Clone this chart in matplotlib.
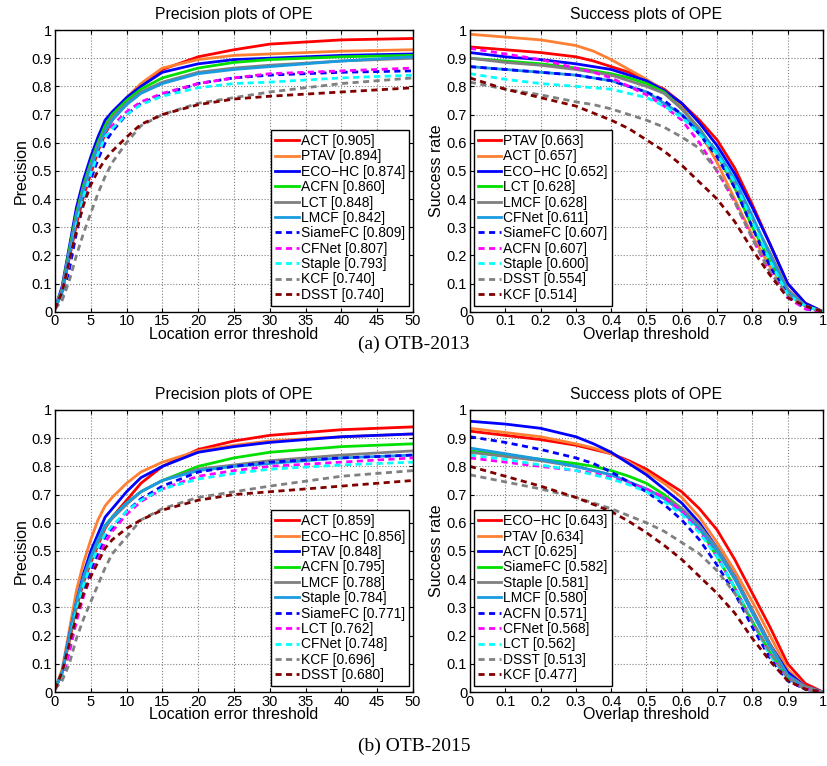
import matplotlib.pyplot as plt

plt.switch_backend("Agg")
plt.rcParams["font.family"] = ["Liberation Sans", "DejaVu Sans"]

# ---- data ----
prec_x = [0, 1, 2, 3, 4, 5, 6, 7, 8, 10, 12, 15, 20, 25, 30, 40, 50]
succ_x = [0, 0.1, 0.2, 0.3, 0.35, 0.4, 0.45, 0.5, 0.55, 0.6, 0.65, 0.7, 0.75, 0.8, 0.85, 0.9, 0.95, 1.0]

# OTB-2013 precision
p13_labels = ["ACT [0.905]", "PTAV [0.894]", "ECO\u2212HC [0.874]", "ACFN [0.860]", "LCT [0.848]",
              "LMCF [0.842]", "SiameFC [0.809]", "CFNet [0.807]", "Staple [0.793]",
              "KCF [0.740]", "DSST [0.740]"]
p13_act = [0.01, 0.07, 0.19, 0.31, 0.41, 0.49, 0.57, 0.63, 0.68, 0.75, 0.80, 0.86, 0.905, 0.93, 0.95, 0.965, 0.97]
p13_ptav = [0.01, 0.08, 0.22, 0.35, 0.45, 0.53, 0.60, 0.66, 0.70, 0.76, 0.81, 0.865, 0.895, 0.91, 0.915, 0.925, 0.93]
p13_eco = [0.01, 0.09, 0.23, 0.37, 0.47, 0.55, 0.62, 0.68, 0.71, 0.76, 0.80, 0.85, 0.88, 0.895, 0.90, 0.91, 0.915]
p13_acfn = [0.01, 0.08, 0.22, 0.35, 0.45, 0.53, 0.60, 0.66, 0.70, 0.75, 0.79, 0.83, 0.865, 0.885, 0.895, 0.905, 0.91]
p13_lct = [0.01, 0.08, 0.21, 0.34, 0.44, 0.52, 0.59, 0.645, 0.69, 0.74, 0.78, 0.815, 0.85, 0.865, 0.875, 0.89, 0.90]
p13_lmcf = [0.01, 0.07, 0.20, 0.33, 0.43, 0.51, 0.58, 0.64, 0.68, 0.735, 0.775, 0.81, 0.845, 0.86, 0.87, 0.89, 0.905]
p13_siam = [0.01, 0.05, 0.15, 0.28, 0.39, 0.47, 0.54, 0.60, 0.64, 0.70, 0.74, 0.77, 0.81, 0.83, 0.84, 0.85, 0.855]
p13_cfnet = [0.01, 0.06, 0.18, 0.31, 0.41, 0.49, 0.56, 0.62, 0.66, 0.71, 0.745, 0.775, 0.81, 0.83, 0.845, 0.855, 0.865]
p13_staple = [0.01, 0.06, 0.18, 0.31, 0.41, 0.49, 0.56, 0.62, 0.65, 0.70, 0.735, 0.765, 0.795, 0.81, 0.815, 0.83, 0.84]
p13_kcf = [0.01, 0.04, 0.11, 0.20, 0.28, 0.35, 0.42, 0.48, 0.53, 0.60, 0.66, 0.70, 0.74, 0.76, 0.78, 0.81, 0.83]
p13_dsst = [0.01, 0.07, 0.18, 0.29, 0.38, 0.45, 0.50, 0.54, 0.57, 0.62, 0.665, 0.70, 0.735, 0.755, 0.765, 0.78, 0.795]

# OTB-2013 success
s13_labels = ["PTAV [0.663]", "ACT [0.657]", "ECO\u2212HC [0.652]", "LCT [0.628]", "LMCF [0.628]",
              "CFNet [0.611]", "SiameFC [0.607]", "ACFN [0.607]", "Staple [0.600]",
              "DSST [0.554]", "KCF [0.514]"]
s13_ptav = [0.94, 0.93, 0.92, 0.905, 0.89, 0.87, 0.85, 0.82, 0.79, 0.74, 0.68, 0.61, 0.51, 0.38, 0.24, 0.10, 0.03, 0.0]
s13_act = [0.985, 0.975, 0.965, 0.945, 0.925, 0.895, 0.86, 0.825, 0.785, 0.73, 0.64, 0.53, 0.40, 0.27, 0.16, 0.07, 0.02, 0.0]
s13_eco = [0.92, 0.905, 0.895, 0.88, 0.87, 0.86, 0.84, 0.82, 0.785, 0.74, 0.67, 0.59, 0.49, 0.37, 0.24, 0.10, 0.03, 0.0]
s13_lct = [0.90, 0.89, 0.88, 0.865, 0.855, 0.845, 0.83, 0.81, 0.78, 0.72, 0.65, 0.56, 0.44, 0.30, 0.18, 0.07, 0.02, 0.0]
s13_lmcf = [0.90, 0.885, 0.875, 0.86, 0.85, 0.84, 0.82, 0.80, 0.775, 0.72, 0.65, 0.56, 0.45, 0.33, 0.21, 0.08, 0.02, 0.0]
s13_cfnet = [0.87, 0.86, 0.85, 0.84, 0.83, 0.82, 0.80, 0.78, 0.74, 0.70, 0.64, 0.57, 0.47, 0.34, 0.20, 0.07, 0.02, 0.0]
s13_siam = [0.87, 0.86, 0.85, 0.84, 0.83, 0.82, 0.80, 0.78, 0.75, 0.70, 0.63, 0.55, 0.44, 0.30, 0.16, 0.06, 0.01, 0.0]
s13_acfn = [0.935, 0.915, 0.895, 0.865, 0.85, 0.83, 0.80, 0.77, 0.73, 0.68, 0.60, 0.50, 0.39, 0.26, 0.14, 0.05, 0.01, 0.0]
s13_staple = [0.845, 0.825, 0.81, 0.80, 0.795, 0.79, 0.775, 0.76, 0.73, 0.69, 0.63, 0.56, 0.46, 0.32, 0.18, 0.06, 0.02, 0.0]
s13_dsst = [0.815, 0.79, 0.77, 0.745, 0.735, 0.72, 0.70, 0.68, 0.655, 0.62, 0.58, 0.50, 0.39, 0.26, 0.14, 0.06, 0.02, 0.0]
s13_kcf = [0.83, 0.79, 0.76, 0.73, 0.705, 0.68, 0.65, 0.61, 0.57, 0.52, 0.46, 0.40, 0.32, 0.22, 0.13, 0.05, 0.02, 0.0]

# OTB-2015 precision
p15_labels = ["ACT [0.859]", "ECO\u2212HC [0.856]", "PTAV [0.848]", "ACFN [0.795]", "LMCF [0.788]",
              "Staple [0.784]", "SiameFC [0.771]", "LCT [0.762]", "CFNet [0.748]",
              "KCF [0.696]", "DSST [0.680]"]
p15_act = [0.01, 0.07, 0.18, 0.30, 0.39, 0.46, 0.52, 0.58, 0.62, 0.68, 0.74, 0.80, 0.86, 0.89, 0.91, 0.93, 0.94]
p15_eco = [0.01, 0.08, 0.22, 0.36, 0.46, 0.54, 0.61, 0.66, 0.69, 0.74, 0.78, 0.815, 0.855, 0.875, 0.89, 0.905, 0.915]
p15_ptav = [0.01, 0.07, 0.20, 0.32, 0.42, 0.50, 0.56, 0.62, 0.65, 0.71, 0.76, 0.80, 0.85, 0.87, 0.885, 0.905, 0.915]
p15_acfn = [0.01, 0.07, 0.19, 0.31, 0.40, 0.47, 0.53, 0.59, 0.62, 0.67, 0.71, 0.75, 0.80, 0.83, 0.85, 0.87, 0.88]
p15_lmcf = [0.01, 0.07, 0.19, 0.31, 0.40, 0.47, 0.53, 0.585, 0.615, 0.665, 0.71, 0.75, 0.79, 0.805, 0.82, 0.84, 0.855]
p15_staple = [0.01, 0.07, 0.20, 0.32, 0.41, 0.48, 0.54, 0.59, 0.62, 0.67, 0.71, 0.75, 0.785, 0.80, 0.81, 0.83, 0.84]
p15_siam = [0.01, 0.05, 0.15, 0.27, 0.36, 0.43, 0.49, 0.55, 0.58, 0.64, 0.685, 0.73, 0.78, 0.80, 0.815, 0.83, 0.84]
p15_lct = [0.01, 0.05, 0.14, 0.25, 0.34, 0.41, 0.47, 0.53, 0.57, 0.63, 0.675, 0.72, 0.765, 0.785, 0.80, 0.815, 0.83]
p15_cfnet = [0.01, 0.06, 0.17, 0.29, 0.38, 0.45, 0.51, 0.56, 0.59, 0.64, 0.68, 0.72, 0.755, 0.775, 0.79, 0.805, 0.815]
p15_kcf = [0.01, 0.04, 0.10, 0.19, 0.26, 0.32, 0.38, 0.44, 0.49, 0.55, 0.61, 0.65, 0.69, 0.71, 0.73, 0.765, 0.785]
p15_dsst = [0.01, 0.07, 0.17, 0.27, 0.35, 0.41, 0.46, 0.51, 0.54, 0.58, 0.61, 0.645, 0.68, 0.70, 0.71, 0.73, 0.75]

# OTB-2015 success
s15_labels = ["ECO\u2212HC [0.643]", "PTAV [0.634]", "ACT [0.625]", "SiameFC [0.582]", "Staple [0.581]",
              "LMCF [0.580]", "ACFN [0.571]", "CFNet [0.568]", "LCT [0.562]",
              "DSST [0.513]", "KCF [0.477]"]
s15_eco = [0.925, 0.91, 0.895, 0.875, 0.86, 0.845, 0.82, 0.79, 0.75, 0.71, 0.65, 0.575, 0.47, 0.35, 0.23, 0.10, 0.03, 0.0]
s15_ptav = [0.935, 0.92, 0.905, 0.88, 0.865, 0.845, 0.815, 0.78, 0.74, 0.69, 0.62, 0.53, 0.43, 0.32, 0.20, 0.08, 0.02, 0.0]
s15_act = [0.96, 0.95, 0.935, 0.905, 0.88, 0.85, 0.81, 0.77, 0.72, 0.67, 0.60, 0.51, 0.41, 0.29, 0.17, 0.07, 0.02, 0.0]
s15_siam = [0.855, 0.84, 0.825, 0.81, 0.80, 0.785, 0.765, 0.74, 0.70, 0.65, 0.58, 0.48, 0.37, 0.25, 0.14, 0.05, 0.01, 0.0]
s15_staple = [0.85, 0.835, 0.82, 0.80, 0.785, 0.77, 0.745, 0.72, 0.69, 0.65, 0.59, 0.51, 0.41, 0.29, 0.17, 0.06, 0.02, 0.0]
s15_lmcf = [0.865, 0.845, 0.825, 0.80, 0.785, 0.77, 0.745, 0.72, 0.685, 0.64, 0.58, 0.50, 0.40, 0.28, 0.16, 0.06, 0.01, 0.0]
s15_acfn = [0.905, 0.885, 0.86, 0.83, 0.81, 0.78, 0.745, 0.71, 0.665, 0.61, 0.54, 0.45, 0.35, 0.23, 0.12, 0.04, 0.01, 0.0]
s15_cfnet = [0.83, 0.815, 0.80, 0.785, 0.775, 0.76, 0.74, 0.72, 0.69, 0.64, 0.57, 0.48, 0.37, 0.25, 0.13, 0.05, 0.01, 0.0]
s15_lct = [0.84, 0.825, 0.805, 0.785, 0.77, 0.755, 0.735, 0.71, 0.675, 0.63, 0.565, 0.48, 0.37, 0.25, 0.13, 0.05, 0.01, 0.0]
s15_dsst = [0.77, 0.745, 0.72, 0.69, 0.67, 0.65, 0.625, 0.60, 0.57, 0.53, 0.49, 0.43, 0.35, 0.25, 0.14, 0.05, 0.01, 0.0]
s15_kcf = [0.80, 0.765, 0.73, 0.69, 0.665, 0.64, 0.605, 0.565, 0.52, 0.47, 0.41, 0.35, 0.28, 0.19, 0.11, 0.04, 0.01, 0.0]

# style per legend rank (same for every panel)
rank_colors = ["#ff0000", "#ff8033", "#0000ff", "#00e000", "#808080", "#1a9be0",
               "#0000ff", "#ff00ff", "#00ffff", "#808080", "#800000"]
rank_styles = ["-"] * 6 + ["--"] * 5


def draw_panel(ax, x, series, labels, kind):
    for i, (y, lab) in enumerate(zip(series, labels)):
        dashes = (2.2, 1.6) if rank_styles[i] == "--" else (None, None)
        ax.plot(x, y, color=rank_colors[i], linestyle=rank_styles[i],
                linewidth=2.0, label=lab, dashes=dashes)
    ax.set_ylim(0, 1)
    ax.set_yticks([i / 10 for i in range(11)])
    ax.set_yticklabels(["0"] + [f"0.{i}" for i in range(1, 10)] + ["1"])
    if kind == "prec":
        ax.set_xlim(0, 50)
        ax.set_xticks(range(0, 51, 5))
        ax.set_title("Precision plots of OPE", fontsize=11.3, pad=8)
        ax.set_xlabel("Location error threshold", fontsize=11.5, labelpad=-1)
        ax.set_ylabel("Precision", fontsize=11.5, labelpad=2)
        leg = ax.legend(loc="lower right", bbox_to_anchor=(0.99, 0.02))
    else:
        ax.set_xlim(0, 1)
        ax.set_xticks([i / 10 for i in range(11)])
        ax.set_xticklabels(["0"] + [f"0.{i}" for i in range(1, 10)] + ["1"])
        ax.set_title("Success plots of OPE", fontsize=11.3, pad=8)
        ax.set_xlabel("Overlap threshold", fontsize=11.5, labelpad=-1)
        ax.set_ylabel("Success rate", fontsize=11.5, labelpad=2)
        leg = ax.legend(loc="lower left", bbox_to_anchor=(0.01, 0.02))
    leg.get_frame().set_edgecolor("black")
    leg.get_frame().set_linewidth(1.0)
    ax.grid(True, linestyle=":", color="#808080", linewidth=0.8)
    ax.tick_params(direction="in", labelsize=10.5, pad=2, length=3, top=True, right=True)
    for s in ax.spines.values():
        s.set_linewidth(1.0)


plt.rcParams["legend.fontsize"] = 10
plt.rcParams["legend.labelspacing"] = 0.1
plt.rcParams["legend.borderpad"] = 0.3
plt.rcParams["legend.handlelength"] = 1.7
plt.rcParams["legend.handletextpad"] = 0.15
plt.rcParams["legend.fancybox"] = False
plt.rcParams["legend.framealpha"] = 1.0
plt.rcParams["legend.borderaxespad"] = 0.0

fig = plt.figure(figsize=(8.28, 7.66), dpi=100)
ax1 = fig.add_axes([0.0664, 0.5931, 0.4324, 0.3677])
ax2 = fig.add_axes([0.5676, 0.5931, 0.4263, 0.3677])
ax3 = fig.add_axes([0.0664, 0.0966, 0.4324, 0.3682])
ax4 = fig.add_axes([0.5676, 0.0966, 0.4263, 0.3682])

draw_panel(ax1, prec_x, [p13_act, p13_ptav, p13_eco, p13_acfn, p13_lct, p13_lmcf, p13_siam,
                         p13_cfnet, p13_staple, p13_kcf, p13_dsst], p13_labels, "prec")
draw_panel(ax2, succ_x, [s13_ptav, s13_act, s13_eco, s13_lct, s13_lmcf, s13_cfnet, s13_siam,
                         s13_acfn, s13_staple, s13_dsst, s13_kcf], s13_labels, "succ")
draw_panel(ax3, prec_x, [p15_act, p15_eco, p15_ptav, p15_acfn, p15_lmcf, p15_staple, p15_siam,
                         p15_lct, p15_cfnet, p15_kcf, p15_dsst], p15_labels, "prec")
draw_panel(ax4, succ_x, [s15_eco, s15_ptav, s15_act, s15_siam, s15_staple, s15_lmcf, s15_acfn,
                         s15_cfnet, s15_lct, s15_dsst, s15_kcf], s15_labels, "succ")

fig.text(0.5, 1 - 344 / 766, "(a) OTB-2013", ha="center", va="center",
         family="Liberation Serif", fontsize=14)
fig.text(0.5, 1 - 746 / 766, "(b) OTB-2015", ha="center", va="center",
         family="Liberation Serif", fontsize=14)

fig.savefig("out.png", dpi=100)
